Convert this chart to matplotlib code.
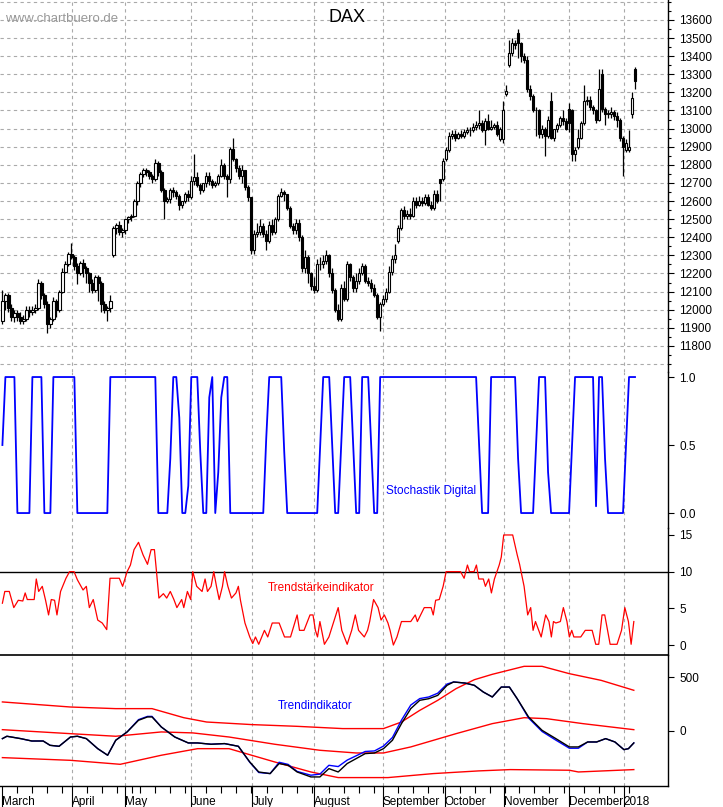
import matplotlib
matplotlib.use("Agg")
import matplotlib.pyplot as plt
from matplotlib.ticker import MultipleLocator, FixedLocator

plt.rcParams["font.family"] = "Liberation Sans"

month_labels = ["March", "April", "May", "June", "July", "August", "September",
                "October", "November", "December", "2018"]
month_pos = [0, 23.1, 40.8, 62.8, 83.4, 103.9, 126.8, 147.5, 167.2, 189.1, 207.3]
month_counts = [23, 18, 22, 21, 21, 23, 21, 20, 22, 18, 3]

opens = [11940, 12050, 12080, 12010, 11960, 11980, 11960, 11940, 11950, 12000, 11990, 12000, 12010, 12150, 12080, 12030, 11920, 11950, 12050, 12000, 12100, 12210, 12250,
         12310, 12290, 12240, 12200, 12260, 12230, 12200, 12150, 12110, 12180, 12150, 12030, 12000, 12010, 12300, 12450, 12470, 12430,
         12440, 12500, 12510, 12520, 12600, 12700, 12750, 12770, 12760, 12740, 12720, 12810, 12760, 12660, 12600, 12610, 12660, 12650, 12630, 12580, 12600, 12640,
         12620, 12710, 12730, 12690, 12660, 12700, 12740, 12710, 12690, 12700, 12740, 12800, 12740, 12720, 12890, 12830, 12780, 12740, 12770, 12680, 12620,
         12330, 12420, 12430, 12460, 12420, 12380, 12470, 12430, 12500, 12630, 12650, 12640, 12560, 12460, 12440, 12480, 12400, 12230, 12290, 12200, 12130,
         12110, 12250, 12250, 12270, 12300, 12200, 12110, 12000, 11950, 12120, 12060, 12250, 12180, 12120, 12160, 12200, 12240, 12160, 12150, 12120, 12080, 11960, 12030,
         12060, 12100, 12210, 12280, 12380, 12450, 12550, 12520, 12530, 12520, 12600, 12580, 12600, 12590, 12620, 12580, 12560, 12640, 12720, 12720, 12830,
         12880, 12960, 12970, 12950, 12970, 12960, 12980, 12990, 12990, 13010, 13020, 13030, 12990, 13040, 13000, 13010, 13020, 12940, 12940, 13190,
         13350, 13420, 13470, 13530, 13470, 13400, 13380, 13220, 13180, 13100, 13100, 12970, 13000, 12960, 13150, 12950, 13000, 13020, 13060, 13040, 13110, 13100,
         12860, 12900, 12950, 13030, 13150, 13160, 13120, 13100, 13050, 13300, 13110, 13080, 13080, 13090, 13070, 13050, 12950, 12880,
         12880, 13080, 13330]
highs = [12110, 12090, 12090, 12030, 12000, 12000, 11990, 11970, 12020, 12020, 12020, 12030, 12170, 12160, 12090, 12050, 11960, 12070, 12060, 12110, 12230, 12270, 12320,
         12370, 12300, 12260, 12270, 12280, 12240, 12210, 12170, 12190, 12190, 12160, 12050, 12020, 12080, 12460, 12480, 12490, 12450,
         12470, 12520, 12530, 12610, 12710, 12760, 12780, 12780, 12770, 12750, 12830, 12820, 12770, 12670, 12620, 12670, 12680, 12660, 12640, 12600, 12650, 12660,
         12740, 12860, 12760, 12700, 12700, 12760, 12760, 12720, 12710, 12750, 12830, 12810, 12750, 12900, 12950, 12840, 12800, 12800, 12770, 12690, 12620,
         12440, 12480, 12500, 12480, 12440, 12490, 12500, 12510, 12640, 12670, 12660, 12640, 12570, 12480, 12500, 12500, 12410, 12330, 12300, 12210, 12180,
         12280, 12290, 12300, 12330, 12310, 12230, 12120, 12030, 12140, 12160, 12270, 12260, 12190, 12200, 12230, 12260, 12250, 12180, 12170, 12140, 12090, 12040, 12080,
         12120, 12240, 12300, 12360, 12470, 12560, 12570, 12550, 12560, 12620, 12620, 12630, 12620, 12640, 12640, 12600, 12660, 12660, 12710, 12840, 12900,
         12980, 12990, 12990, 12980, 12990, 13000, 13010, 13010, 13030, 13040, 13100, 13050, 13060, 13080, 13050, 13030, 13040, 13010, 13150, 13240,
         13490, 13500, 13490, 13550, 13480, 13420, 13400, 13240, 13190, 13120, 13110, 13020, 13010, 13070, 13200, 13000, 13030, 13070, 13100, 13060, 13140, 13110,
         12900, 13000, 13040, 13240, 13180, 13180, 13130, 13110, 13330, 13330, 13120, 13100, 13120, 13100, 13090, 13060, 12960, 12940,
         12990, 13200, 13340]
lows = [11920, 12000, 11990, 11940, 11930, 11940, 11920, 11920, 11940, 11960, 11970, 11980, 12000, 12060, 12010, 11870, 11900, 11940, 11960, 11990, 12090, 12200, 12240,
        12280, 12220, 12140, 12190, 12180, 12150, 12100, 12090, 12100, 12050, 11990, 11980, 11940, 11990, 12290, 12420, 12410, 12400,
        12420, 12480, 12490, 12510, 12580, 12680, 12730, 12740, 12720, 12700, 12710, 12740, 12650, 12500, 12590, 12590, 12620, 12610, 12550, 12560, 12590, 12600,
        12610, 12690, 12680, 12640, 12650, 12680, 12690, 12670, 12680, 12690, 12730, 12720, 12620, 12700, 12820, 12760, 12720, 12700, 12660, 12600, 12310,
        12310, 12400, 12410, 12400, 12330, 12370, 12410, 12420, 12490, 12620, 12600, 12550, 12450, 12420, 12420, 12380, 12210, 12200, 12150, 12110, 12090,
        12100, 12220, 12230, 12250, 12180, 12090, 11990, 11940, 11940, 12050, 12050, 12160, 12100, 12100, 12140, 12190, 12150, 12130, 12100, 12070, 11950, 11880, 12020,
        12040, 12090, 12190, 12260, 12370, 12440, 12500, 12500, 12500, 12510, 12560, 12570, 12570, 12580, 12570, 12550, 12550, 12590, 12600, 12710, 12820,
        12870, 12940, 12930, 12940, 12950, 12950, 12970, 12960, 12980, 12990, 13000, 12980, 12910, 12990, 12990, 13000, 12960, 12930, 12920, 13180,
        13340, 13400, 13440, 13390, 13370, 13360, 13200, 13160, 13090, 12960, 12950, 12950, 12850, 12950, 12940, 12930, 12980, 13010, 13020, 12990, 12980, 12820,
        12820, 12890, 12940, 13020, 13130, 13100, 13080, 13030, 13040, 13090, 13020, 13060, 13060, 13050, 13010, 12930, 12740, 12870,
        12870, 13060, 13220]
closes = [12050, 12080, 12010, 11960, 11980, 11960, 11940, 11950, 12000, 11990, 12000, 12010, 12150, 12080, 12030, 11920, 11950, 12050, 12000, 12100, 12210, 12250, 12310,
          12290, 12240, 12200, 12260, 12230, 12200, 12150, 12110, 12180, 12150, 12030, 12000, 12010, 12050, 12450, 12470, 12430, 12440,
          12500, 12510, 12520, 12600, 12700, 12750, 12770, 12760, 12740, 12720, 12810, 12760, 12660, 12600, 12610, 12660, 12650, 12630, 12580, 12600, 12640, 12620,
          12710, 12730, 12690, 12660, 12700, 12740, 12710, 12690, 12700, 12740, 12800, 12740, 12720, 12890, 12830, 12780, 12740, 12770, 12680, 12620, 12330,
          12420, 12430, 12460, 12420, 12380, 12470, 12430, 12500, 12630, 12650, 12640, 12560, 12460, 12440, 12480, 12400, 12230, 12290, 12200, 12130, 12110,
          12250, 12250, 12270, 12300, 12200, 12110, 12000, 11950, 12120, 12060, 12250, 12180, 12120, 12160, 12200, 12240, 12160, 12150, 12120, 12080, 11960, 12030, 12060,
          12100, 12210, 12280, 12300, 12450, 12550, 12520, 12530, 12520, 12600, 12580, 12600, 12590, 12620, 12580, 12560, 12640, 12600, 12700, 12820, 12880,
          12960, 12970, 12950, 12970, 12960, 12980, 12990, 12990, 13010, 13020, 13030, 12990, 13040, 13000, 13010, 13020, 12970, 13000, 13100, 13210,
          13420, 13470, 13460, 13470, 13400, 13380, 13220, 13180, 13100, 13100, 12970, 13000, 12960, 13050, 12950, 13000, 13020, 13060, 13040, 13000, 13030, 12860,
          12880, 12950, 13030, 13150, 13160, 13120, 13100, 13050, 13220, 13110, 13080, 13080, 13090, 13070, 13050, 12950, 12900, 12920,
          12900, 13170, 13260]

stoch = [0.5, 1, 1, 1, 1, 0, 0, 0, 0, 0, 1, 1, 1, 1, 0, 0, 0, 1, 1, 1, 1, 1, 1, 1, 1,
         0, 0, 0, 0, 0, 0, 0, 0, 0, 0, 0,
         1, 1, 1, 1, 1, 1, 1, 1, 1, 1, 1, 1, 1, 1, 1, 1,
         0, 0, 0, 0, 0.4, 1, 1, 0.7, 0, 0, 0.2, 1, 1, 1, 0.45, 0, 0, 0.85, 1, 0, 0.3, 0.85, 1, 1,
         0, 0, 0, 0, 0, 0, 0, 0, 0, 0, 0, 0, 0.55, 1, 1, 1, 1, 1, 0.45,
         0, 0, 0, 0, 0, 0, 0, 0, 0, 0, 0, 0.5, 1, 1, 1, 0.5, 0, 0, 0.5, 1, 1, 1, 0.5, 0, 0,
         1, 1, 1, 0.5, 0, 0,
         1, 1, 1, 1, 1, 1, 1, 1, 1, 1, 1, 1, 1, 1, 1, 1, 1, 1, 1, 1, 1, 1, 1, 1, 1, 1, 1, 1, 1, 1, 1, 1, 1,
         0.5, 0, 0, 0, 1, 1, 1, 1, 1, 1, 1, 1, 1, 0.4, 0, 0, 0, 0, 0, 0.5, 1, 1, 1, 0.3,
         0, 0, 0, 0, 0, 0, 0, 0.5, 1, 1, 1, 1, 1, 1, 1, 0.05, 1, 1, 0.4, 0, 0, 0, 0, 0, 0, 0.5, 1, 1, 1]

ts_days = [0, 0.8, 2.3, 3.8, 5.3, 6.8, 7.6, 8.3, 10.6, 11.3, 12.1, 13.3, 14.4, 15.4, 16.3, 17.4, 18.2, 19.4, 21.2, 22.4,
           23.9, 25, 26.9, 28, 29, 30.3, 31.8, 33.3, 34.8, 35.9, 39, 40.1, 41.6, 42.7, 43.9, 45.4, 46.9, 48.4, 49.6, 50.7,
           51.4, 52.2, 53.7, 54.8, 56, 57.2, 58.2, 59.8, 60.5, 61.7, 62.8, 63.5, 64.8, 66.6, 67.6, 68.4, 69.6, 70.5, 71.4, 72.3,
           73.4, 74.1, 75.2, 76.4, 77.9, 78.7, 79.4, 80.9, 82.5, 83.5, 84.4, 85.5, 87.4, 88.5, 90, 92.3, 94.1, 96.1, 98.3, 99.1,
           100.6, 102.6, 103.6, 104.4, 105.1, 105.9, 107.4, 108.9, 112, 113.2, 115, 116.5, 117.7, 118.8, 120.7, 121.8, 122.5, 123.8, 125.3, 126.3,
           127.4, 128.6, 129.3, 130.4, 131.6, 133.1, 136.2, 137.7, 138.4, 140.7, 143, 143.7, 144.5, 145.7, 147, 148, 149.8, 152.8, 154, 155.1,
           155.8, 157.3, 158.1, 158.9, 160.4, 161.1, 162.2, 163.1, 164.1, 165.7, 166.4, 167.2, 170.2, 171.7, 172.5, 174, 175.2, 176.2, 177, 177.8,
           179.7, 181.2, 182.3, 183.1, 183.8, 184.6, 186.1, 187.1, 188.3, 189.1, 189.9, 190.6, 192.9, 194.4, 196.7, 197.9, 198.9, 200, 200.9, 202.7,
           205, 206.5, 207.6, 208.8, 209.7, 210.6]
ts_vals = [5.7, 7.3, 7.3, 5.1, 6.1, 6, 7.1, 6.2, 6.2, 9, 7.3, 8, 6.1, 4.1, 6.2, 6.1, 4.1, 7.3, 9.1, 10,
           10, 8.9, 7.5, 8, 5.1, 6.2, 3.4, 3, 2.1, 9.1, 9.1, 8, 10, 10.9, 13, 14, 12.3, 11, 13, 13,
           10, 6.4, 7, 6.4, 7.3, 6.2, 5.1, 6.2, 5.1, 7.3, 6.2, 10, 8, 7.3, 9, 7.3, 8, 10, 8, 6.2,
           8, 10, 8, 6.4, 7.1, 8, 6.1, 3, 1.1, 0.2, 1.1, 0.1, 2, 1.1, 3, 3, 1.1, 1.1, 4.1, 2,
           2, 4.1, 4.1, 2, 1.1, 3.2, 0.1, 1.1, 5.1, 2, 0.1, 2, 4.1, 2, 1.1, 2, 3.2, 6.2, 5.1, 3.4,
           4.1, 3, 2, 0, 1.1, 3.2, 3.2, 4.1, 3.2, 5.1, 5.1, 4.1, 6.1, 6.2, 8, 10, 10, 10, 9.1, 10.9,
           10, 10, 10.9, 9, 9, 8, 9, 7.1, 9, 10.9, 12, 15, 15, 12.3, 11, 8, 4.1, 5.1, 2, 3.2,
           1.1, 4.1, 3.2, 1.1, 3.2, 3, 3.2, 5.1, 3.2, 1.1, 2, 1.1, 1.1, 2, 2, 0.1, 0.1, 4.1, 4.1, 0.1,
           0.1, 2, 5.1, 3.2, 0.1, 3.2]

ti_days = [0, 1.5, 6.1, 9.8, 13.6, 15.9, 18.9, 22.7, 25, 28, 31.8, 35.1, 37.8, 41.6, 45.4, 48.4, 49.9, 53, 57.5, 62,
           65.1, 69.6, 74.1, 78.7, 82.5, 85.5, 89.3, 92.3, 95.3, 98.3, 102.9, 105.9, 108.9, 112, 115, 118, 121, 124.1, 127.1, 130.1,
           133.1, 136.2, 139.2, 142.2, 145.2, 148.3, 150.5, 154.3, 157.4, 160.4, 163.4, 166.4, 169.1, 171.7, 175.5, 180, 184.6, 189.1, 192.1, 195.2,
           198.2, 201.2, 204.3, 207.3, 208.8, 210.6]
ti_black = [-71, -49, -71, -93, -93, -133, -142, -56, -49, -71, -164, -225, -86, -9, 99, 130, 130, 37, -56, -111,
            -111, -123, -117, -142, -287, -380, -395, -302, -318, -380, -426, -426, -349, -380, -302, -256, -210, -204, -164, -86,
            68, 207, 284, 299, 330, 423, 454, 444, 423, 361, 315, 407, 407, 299, 130, 6, -71, -148, -148, -102,
            -102, -71, -102, -173, -164, -111]
ti_blue = [-71, -49, -71, -93, -93, -133, -142, -56, -49, -71, -164, -225, -86, -9, 105, 135, 135, 37, -56, -111,
           -111, -123, -117, -142, -290, -385, -395, -290, -310, -375, -410, -400, -318, -330, -270, -230, -190, -185, -140, -60,
           100, 240, 300, 315, 350, 435, 454, 444, 423, 361, 315, 407, 407, 299, 120, -5, -85, -160, -160, -102,
           -102, -71, -102, -173, -164, -111]
up_days = [0, 22.7, 37.8, 49.9, 60.5, 68.1, 83.2, 98.3, 113.5, 127.1, 133.1, 139.2, 145.2, 151.3, 157.4, 163.4, 174, 180, 189.1, 199.7, 210.6]
up_vals = [269, 222, 207, 207, 123, 83, 59, 43, 22, 22, 83, 191, 284, 392, 475, 525, 599, 599, 531, 469, 377]
mid_days = [0, 22.7, 37.8, 53, 63.5, 75.6, 90.8, 105.9, 118, 127.1, 136.2, 151.3, 163.4, 174, 181.5, 193.6, 210.6]
mid_vals = [12, -25, -49, -9, -18, -56, -123, -179, -204, -204, -148, -25, 68, 123, 114, 68, 12]
low_days = [0, 22.7, 39.3, 53, 65.1, 75.6, 90.8, 102.9, 112, 128.6, 143.7, 158.9, 169.4, 189.1, 192.1, 210.6]
low_vals = [-247, -272, -309, -225, -164, -164, -287, -380, -432, -432, -395, -370, -358, -364, -380, -358]

price_ticks = list(range(11800, 13700, 100))

# ---------- layout ----------
W, H = 723, 807
fig = plt.figure(figsize=(W / 100, H / 100), dpi=100)
X0, X1 = 0, 668
XL = (-0.8, 222)

def mkax(top, bottom):
    return fig.add_axes([X0 / W, 1 - bottom / H, (X1 - X0) / W, (bottom - top) / H])

ax_p = mkax(0, 372)
ax_s = mkax(372, 528)
ax_t = mkax(528, 655)
ax_i = mkax(655, 786)

def xfrac(px):
    return px / (X1 - X0) * (XL[1] - XL[0]) + XL[0]

grid_kw = dict(color="#aaaaaa", lw=0.8, ls=(0, (3, 3)))
for ax in (ax_p, ax_s, ax_t, ax_i):
    ax.set_xlim(*XL)
    ax.set_facecolor("none")
    for s in ("left", "top", "bottom"):
        ax.spines[s].set_visible(False)
    ax.spines["right"].set_linewidth(1.0)
    ax.yaxis.tick_right()
    ax.tick_params(axis="y", labelsize=8.5, length=4, width=0.8, pad=4)
    ax.tick_params(axis="x", bottom=False, labelbottom=False)
    for m in month_pos[1:]:
        ax.axvline(m, zorder=0, **grid_kw)

# price
ax_p.set_ylim(11656, 13710)
ax_p.set_yticks(price_ticks)
ax_p.yaxis.set_minor_locator(MultipleLocator(50))
ax_p.tick_params(axis="y", which="minor", length=2.5, width=0.8)
for yv in range(11700, 13800, 100):
    ax_p.axhline(yv, zorder=0, **grid_kw)
idx = []
d = 0
for c in month_counts:
    for _ in range(c):
        idx.append(d)
        d += 1
for i, o, h, l, c in zip(idx, opens, highs, lows, closes):
    ax_p.vlines(i, l, h, color="black", lw=0.9, zorder=2)
    lo, hi = min(o, c), max(o, c)
    fc = "white" if c >= o else "black"
    ax_p.bar(i, max(hi - lo, 4), bottom=lo, width=0.8, facecolor=fc,
             edgecolor="black", linewidth=0.8, zorder=3)
ax_p.text(0.52, 0.952, "DAX", transform=ax_p.transAxes, ha="center",
          va="center", fontsize=13)
ax_p.text(0.008, 0.948, "www.chartbuero.de", transform=ax_p.transAxes, ha="left",
          va="center", fontsize=9.5, color="#999999")

# stochastic
ax_s.set_ylim(-0.11, 1.037)
ax_s.set_yticks([0, 0.5, 1.0])
ax_s.set_yticklabels(["0.0", "0.5", "1.0"])
ax_s.plot(idx, stoch, color="blue", lw=1.3)
ax_s.text(xfrac(386), 0.16, "Stochastik Digital", color="blue",
          fontsize=8.5, ha="left", va="center")

# trend strength
ax_t.set_ylim(-1.36, 15.95)
ax_t.set_yticks([0, 5, 10, 15])
ax_t.axhline(10, color="black", lw=1.0, zorder=1)
ax_t.plot(ts_days, ts_vals, color="red", lw=0.9, zorder=2)
ax_t.text(xfrac(268), 7.8, "Trendstärkeindikator", color="red",
          fontsize=8.5, ha="left", va="center")

# trend indicator
ax_i.set_ylim(-510, 704)
ax_i.set_yticks([0, 500])
ax_i.spines["top"].set_visible(True)
ax_i.spines["top"].set_linewidth(1.2)
ax_i.spines["bottom"].set_visible(True)
ax_i.spines["bottom"].set_linewidth(1.0)
ax_i.plot(up_days, up_vals, color="red", lw=1.0)
ax_i.plot(mid_days, mid_vals, color="red", lw=1.0)
ax_i.plot(low_days, low_vals, color="red", lw=1.0)
ax_i.plot(ti_days, ti_blue, color="blue", lw=1.0)
ax_i.plot(ti_days, ti_black, color="black", lw=1.0)
ax_i.text(xfrac(278), 235, "Trendindikator", color="blue",
          fontsize=8.5, ha="left", va="center")
ax_i.tick_params(axis="x", bottom=True, labelbottom=True, direction="out",
                 length=20, width=0.8, labelsize=8.5, pad=-13)
ax_i.set_xticks(month_pos)
ax_i.set_xticklabels(month_labels, ha="left")
ax_i.xaxis.set_minor_locator(FixedLocator([m + k * 5 for m in month_pos[:-1] for k in range(1, 5)]))
ax_i.tick_params(axis="x", which="minor", length=5, width=0.8)
for lbl in ax_i.get_xticklabels():
    lbl.set_x(lbl.get_position()[0])

fig.savefig("out.png", dpi=100)
